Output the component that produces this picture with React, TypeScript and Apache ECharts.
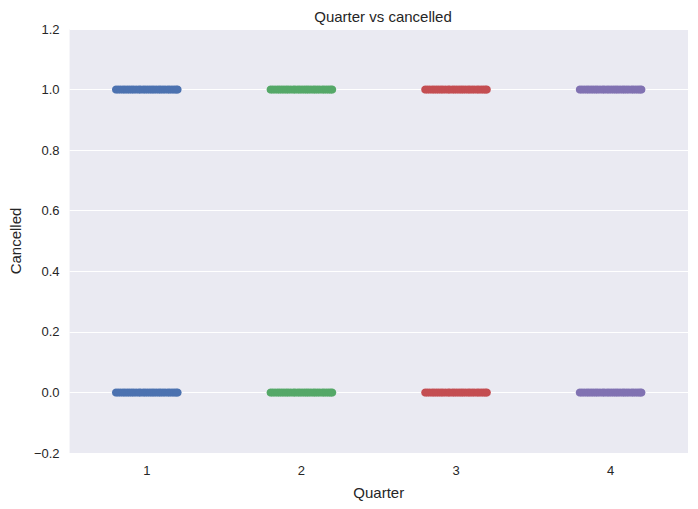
import { useEffect, useRef } from 'react';
import * as echarts from 'echarts';

// quarters on the x axis, cancelled flag on the y axis
const quarters = [1, 2, 3, 4];
const cancelledValues = [0, 1];
const quarterColors = ['#4C72B0', '#55A868', '#C44E52', '#8172B2'];
const yTicks = [-0.2, 0, 0.2, 0.4, 0.6, 0.8, 1.0, 1.2];

// strip-plot jitter offsets
const jitter = [
  -0.2, -0.186, -0.171, -0.155, -0.142, -0.127, -0.113, -0.098, -0.085, -0.069,
  -0.052, -0.041, -0.024, -0.011, 0.004, 0.019, 0.033, 0.046, 0.061, 0.077,
  0.089, 0.104, 0.118, 0.135, 0.147, 0.162, 0.176, 0.189, 0.199
];

const FONT = '"Liberation Sans", Arial, sans-serif';
const TEXT = '#262626';

export default function App() {
  const containerRef = useRef<HTMLDivElement>(null);

  useEffect(() => {
    if (!containerRef.current) return;
    const chart = echarts.init(containerRef.current, undefined, { renderer: 'svg' });

    const series = quarters.map((q, i) => ({
      type: 'scatter' as const,
      name: String(q),
      symbolSize: 8,
      itemStyle: { color: quarterColors[i], opacity: 1 },
      data: cancelledValues.flatMap((v) => jitter.map((j) => [q + j, v]))
    }));

    const option: echarts.EChartsOption = {
      animation: false,
      backgroundColor: '#ffffff',
      textStyle: { fontFamily: FONT },
      title: {
        text: 'Quarter vs cancelled',
        left: 378,
        top: 4,
        textAlign: 'center',
        textStyle: { fontFamily: FONT, fontSize: 15, fontWeight: 'normal', color: TEXT }
      },
      grid: { left: 68, top: 29, width: 620, height: 424, backgroundColor: '#EAEAF2', show: true, borderWidth: 0 },
      xAxis: {
        type: 'value',
        min: 0.5,
        max: 4.5,
        interval: 0.5,
        name: 'Quarter',
        nameLocation: 'middle',
        nameGap: 32,
        nameTextStyle: { fontFamily: FONT, fontSize: 15, color: TEXT },
        axisLine: { show: false },
        axisTick: { show: false },
        splitLine: { show: false },
        axisLabel: {
          fontFamily: FONT,
          fontSize: 13,
          color: TEXT,
          margin: 11,
          formatter: (val: number) => (quarters.includes(val) ? String(val) : '')
        }
      },
      yAxis: {
        type: 'value',
        min: yTicks[0],
        max: yTicks[yTicks.length - 1],
        interval: 0.2,
        name: 'Cancelled',
        nameLocation: 'middle',
        nameGap: 46,
        nameTextStyle: { fontFamily: FONT, fontSize: 15, color: TEXT },
        axisLine: { show: false },
        axisTick: { show: false },
        splitLine: { show: true, lineStyle: { color: '#ffffff', width: 1.2 } },
        axisLabel: {
          fontFamily: FONT,
          fontSize: 13,
          color: TEXT,
          margin: 10,
          formatter: (val: number) => {
            const s = Math.abs(val).toFixed(1);
            return val < -1e-9 ? '\u2212' + s : s;
          }
        }
      },
      series
    };

    chart.setOption(option);
    return () => chart.dispose();
  }, []);

  return (
    <div
      ref={containerRef}
      style={{ position: 'fixed', left: 0, top: 0, width: 698, height: 509 }}
    />
  );
}
